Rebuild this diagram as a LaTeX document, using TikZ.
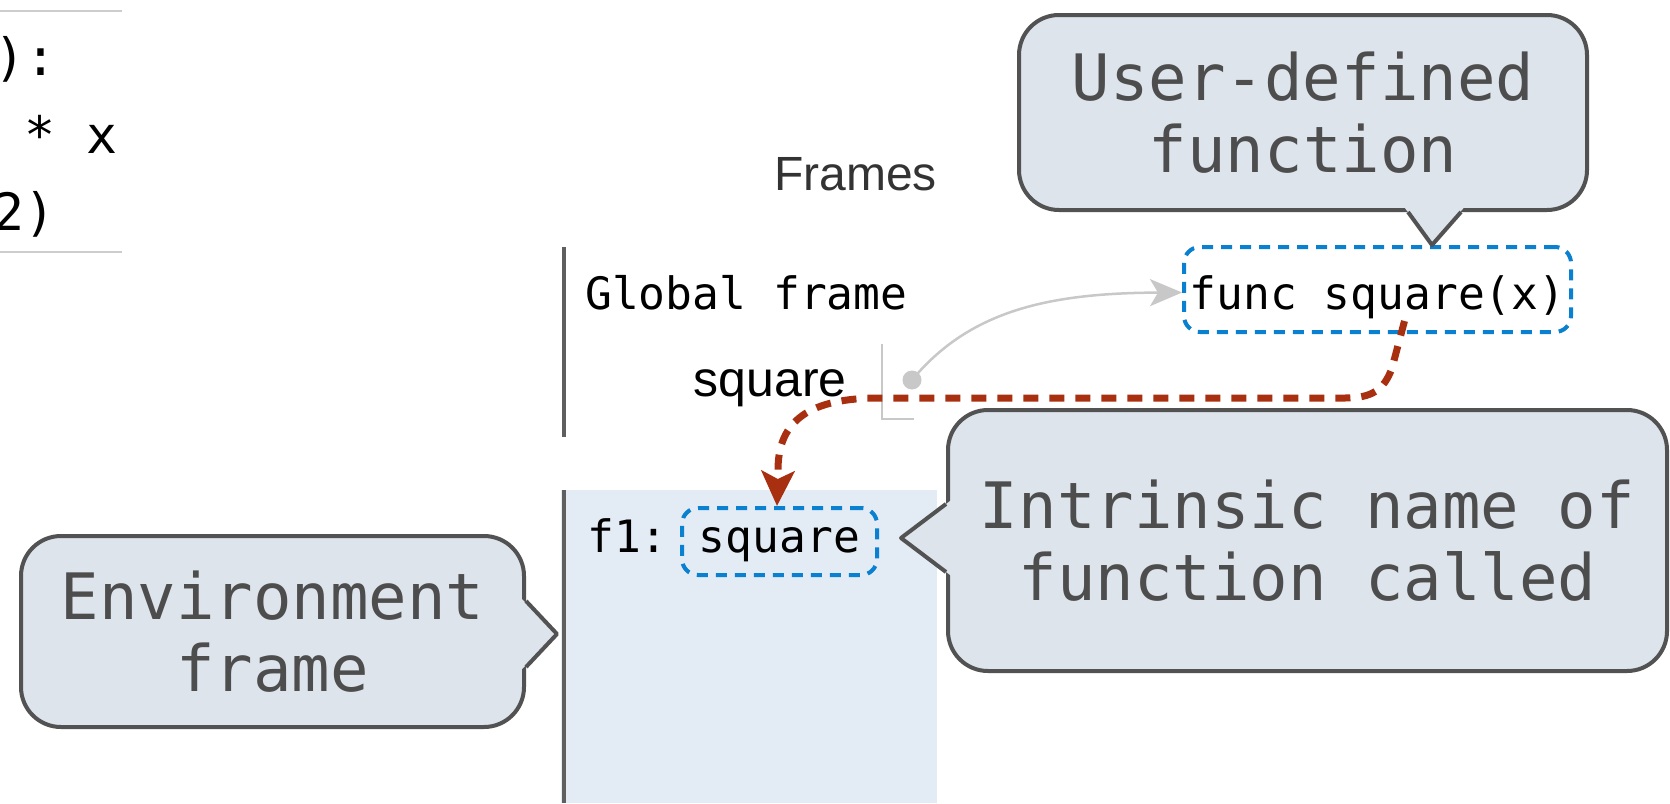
\documentclass[tikz,border=0pt]{standalone}
\usepackage{fontspec}
\setmainfont{Liberation Sans}
\newfontfamily\codefont{DejaVu Sans Mono}
\usetikzlibrary{arrows.meta,calc}

\definecolor{callfill}{RGB}{221,228,236}
\definecolor{callline}{RGB}{82,82,82}
\definecolor{calltext}{RGB}{77,77,77}
\definecolor{framefill}{RGB}{227,235,245}
\definecolor{framebar}{RGB}{95,95,95}
\definecolor{ptrgray}{RGB}{200,200,200}
\definecolor{rulegray}{RGB}{205,205,205}
\definecolor{dashblue}{RGB}{10,128,208}
\definecolor{dashred}{RGB}{168,48,16}

\begin{document}
\begin{tikzpicture}[x=1pt, y=-1pt,
    callbox/.style={rectangle, draw=callline, line width=4pt, fill=callfill, rounded corners=40pt, inner sep=0pt, align=center, text=calltext, font=\codefont\fontsize{64}{72}\selectfont},
    codeline/.style={inner sep=0pt, anchor=base east, font=\codefont\fontsize{51.5}{60}\selectfont},
    framelabel/.style={inner sep=0pt, anchor=base west, font=\codefont\fontsize{44.6}{50}\selectfont},
    valbox/.style={rectangle, draw=dashblue, line width=4pt, dash pattern=on 11pt off 8pt, rounded corners=16pt, inner sep=0pt, font=\codefont\fontsize{44.6}{50}\selectfont},
    ptrline/.style={-{Stealth[length=32pt, width=27pt, inset=8pt]}, ptrgray, line width=2.5pt},
    redarrow/.style={-{Stealth[length=35pt, width=33pt, inset=8pt]}, dashred, line width=7pt, dash pattern=on 15pt off 11pt},
    tipside/.style={callline, line width=4pt, line join=round}
]
\useasboundingbox (0,0) rectangle (1670,803);
\fill[white] (0,0) rectangle (1670,803);

% Code panel (cut off on the left)
\draw[rulegray, line width=2pt] (0,11) -- (122,11);
\draw[rulegray, line width=2pt] (0,252) -- (122,252);
\node[codeline] (code1) at (57,75) {):};
\node[codeline] (code2) at (118,153) {* x};
\node[codeline] (code3) at (56,230) {2)};

% Frames heading
\node[inner sep=0pt, anchor=base west, text=black!80, font=\fontsize{48}{50}\selectfont] (frames) at (774,190) {Frames};

% Global frame
\draw[framebar, line width=4.5pt] (564,247) -- (564,437);
\node[framelabel] (global) at (585,309) {Global frame};
\node[inner sep=0pt, anchor=base east, font=\fontsize{50}{55}\selectfont] (gsquare) at (847,396) {square};
\draw[ptrgray, line width=2pt] (882,344) -- (882,419) -- (914,419);
\node[circle, fill=ptrgray, minimum size=19pt, inner sep=0pt] (dot) at (912,380) {};

% Function object
\node[valbox, minimum width=387pt, minimum height=85pt, text height=42pt, text depth=3pt] (fbox) at (1377.5,289.5) {func square(x)};
\draw[ptrline] (dot.center) .. controls (970,310) and (1050,293) .. ([yshift=-3pt]fbox.west);

% f1 frame
\fill[framefill] (561,490) rectangle (937,803);
\draw[framebar, line width=4.5pt] (564,490) -- (564,803);
\node[framelabel] (f1) at (587,552) {f1:};
\node[valbox, minimum width=195pt, minimum height=67pt, text height=28pt, text depth=6pt] (sqbox) at (779.5,541.5) {square};

% Arrow from function to intrinsic name
\draw[redarrow] ([xshift=27pt,yshift=13pt]fbox.south) -- (1392,368) .. controls (1384,390) and (1372,398) .. (1345,398) -- (880,398) .. controls (810,398) and (778,420) .. (778,470) -- ([xshift=-2.5pt]sqbox.north);

% Callouts
\node[callbox, minimum width=568pt, minimum height=195pt] (ucall) at (1303,112.5) {User-defined\\function};
\fill[callfill] ($(ucall.south)+(99,-8)$) -- ([xshift=54.5pt]fbox.north) -- ($(ucall.south)+(164,-8)$) -- cycle;
\draw[tipside] ($(ucall.south)+(105,0)$) -- ([xshift=54.5pt]fbox.north) -- ($(ucall.south)+(158,0)$);

\node[callbox, minimum width=719pt, minimum height=261pt] (icall) at (1307.5,540.5) {Intrinsic name of\\function called};
\fill[callfill] ($(icall.west)+(8,-42.5)$) -- ($(icall.west)+(-45,-2.5)$) -- ($(icall.west)+(8,37.5)$) -- cycle;
\draw[tipside] ($(icall.west)+(0,-36.5)$) -- ($(icall.west)+(-45,-2.5)$) -- ($(icall.west)+(0,31.5)$);

\node[callbox, minimum width=503pt, minimum height=191pt] (ecall) at (272.5,631.5) {Environment\\frame};
\fill[callfill] ($(ecall.east)+(-8,-36.5)$) -- ($(ecall.east)+(31,2.5)$) -- ($(ecall.east)+(-8,41.5)$) -- cycle;
\draw[tipside] ($(ecall.east)+(0,-30.5)$) -- ($(ecall.east)+(31,2.5)$) -- ($(ecall.east)+(0,35.5)$);

\end{tikzpicture}
\end{document}
